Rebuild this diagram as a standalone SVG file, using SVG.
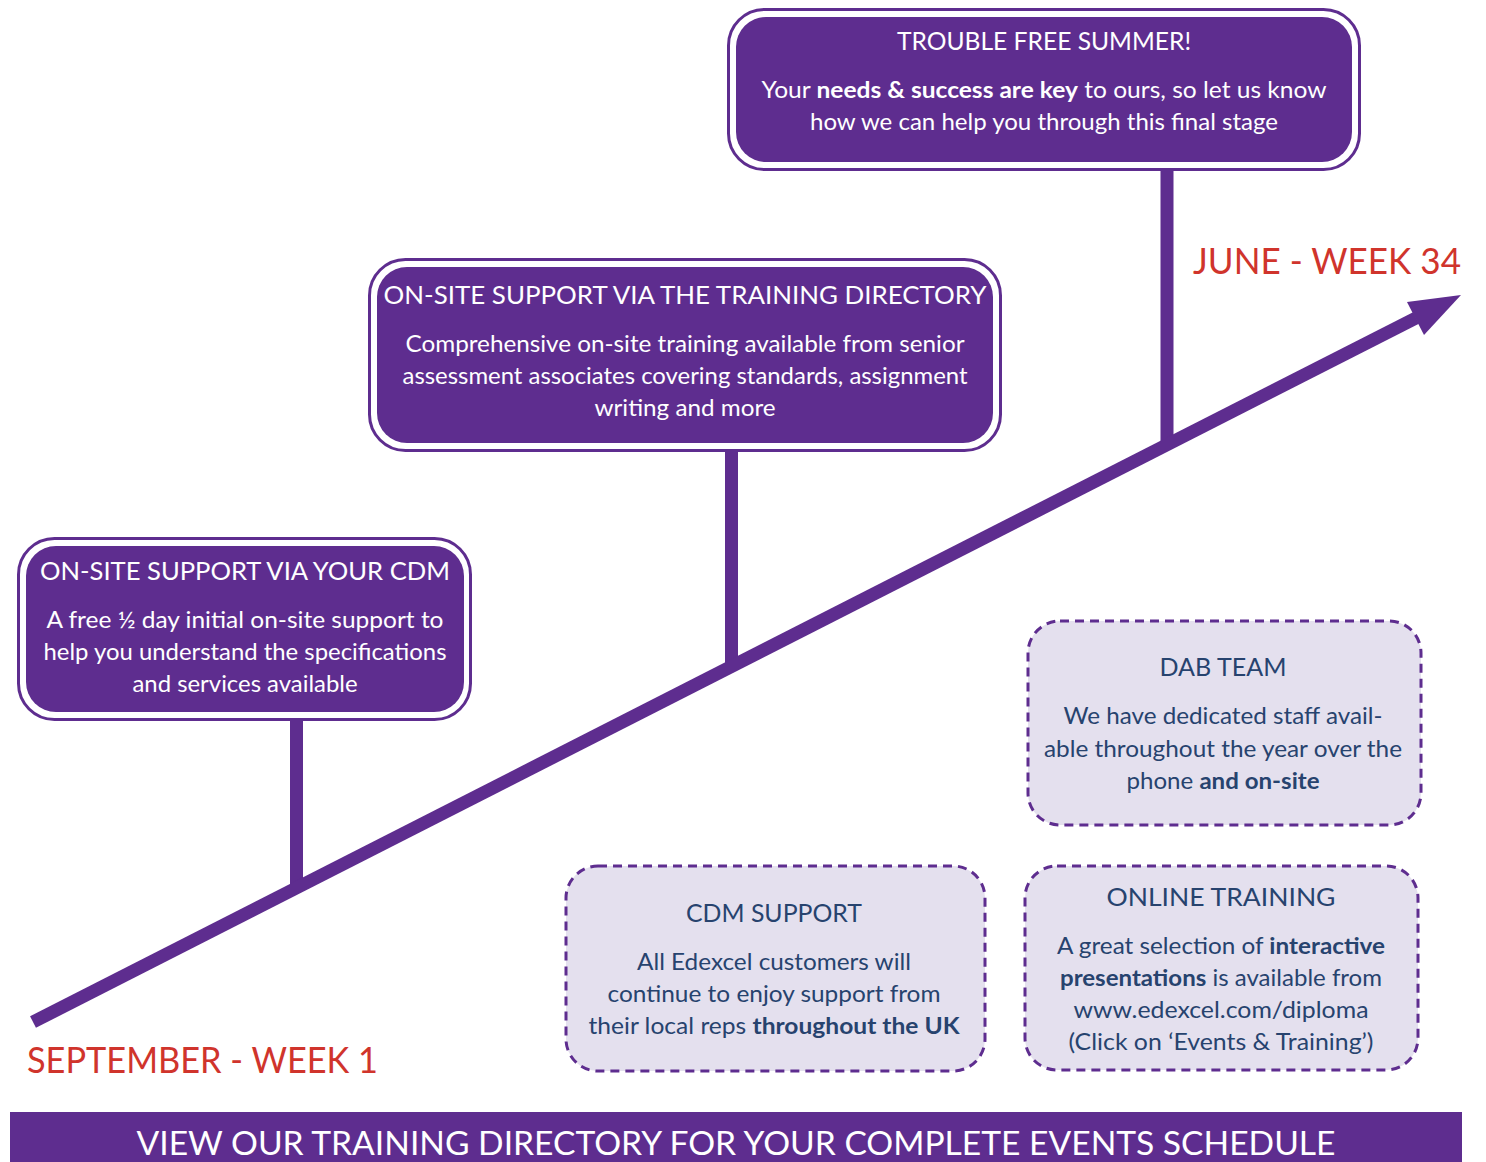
<svg xmlns="http://www.w3.org/2000/svg" width="1486" height="1162" viewBox="0 0 1486 1162">
<style>
.outer{fill:#ffffff;stroke:#5e2d8f;stroke-width:3}
.inner{fill:#5e2d8f}
.dash{fill:#e4e0ee;stroke:#5e2d8f;stroke-width:3;stroke-dasharray:9 6}
.wt{font-family:Lato,"Liberation Sans",sans-serif;fill:#ffffff;text-anchor:middle}
.nt{font-family:Lato,"Liberation Sans",sans-serif;fill:#27436e;text-anchor:middle}
.title{font-size:25px}
.body{font-size:23px}
.b{font-weight:bold}
.red{font-family:Lato,"Liberation Sans",sans-serif;fill:#d0342c;font-size:37px}
.stem{stroke:#5e2d8f;stroke-width:13;fill:none}
</style>
<rect width="1486" height="1162" fill="#ffffff"/>
<g id="connectors">
<line class="stem" x1="296.5" y1="718" x2="296.5" y2="888"/>
<line class="stem" x1="731.5" y1="449" x2="731.5" y2="667"/>
<line class="stem" x1="1167" y1="168" x2="1167" y2="445"/>
<line class="stem" x1="33" y1="1022" x2="1416" y2="318"/>
<polygon points="1461,295 1407,302 1424,335" fill="#5e2d8f"/>
</g>
<g id="node-cdm-onsite">
<rect class="outer" x="18.5" y="538.5" width="452" height="181" rx="36"/>
<rect class="inner" x="26" y="546" width="438" height="166" rx="30"/>
<text class="wt title" x="245" y="580" textLength="410" lengthAdjust="spacingAndGlyphs">ON-SITE SUPPORT VIA YOUR CDM</text>
<text class="wt body" x="245" y="628" textLength="397" lengthAdjust="spacingAndGlyphs">A free ½ day initial on-site support to</text>
<text class="wt body" x="245" y="660" textLength="403" lengthAdjust="spacingAndGlyphs">help you understand the specifications</text>
<text class="wt body" x="245" y="692" textLength="225" lengthAdjust="spacingAndGlyphs">and services available</text>
</g>
<g id="node-training-directory">
<rect class="outer" x="369.5" y="259.5" width="631" height="191" rx="36"/>
<rect class="inner" x="377" y="267" width="616" height="176" rx="30"/>
<text class="wt title" x="685" y="304" textLength="603" lengthAdjust="spacingAndGlyphs">ON-SITE SUPPORT VIA THE TRAINING DIRECTORY</text>
<text class="wt body" x="685" y="352" textLength="559" lengthAdjust="spacingAndGlyphs">Comprehensive on-site training available from senior</text>
<text class="wt body" x="685" y="384" textLength="565" lengthAdjust="spacingAndGlyphs">assessment associates covering standards, assignment</text>
<text class="wt body" x="685" y="416" textLength="181" lengthAdjust="spacingAndGlyphs">writing and more</text>
</g>
<g id="node-summer">
<rect class="outer" x="728.5" y="9.5" width="631" height="160" rx="36"/>
<rect class="inner" x="736" y="17" width="616" height="145" rx="30"/>
<text class="wt title" x="1044" y="50" textLength="294" lengthAdjust="spacingAndGlyphs">TROUBLE FREE SUMMER!</text>
<text class="wt body" x="1044" y="98" textLength="565" lengthAdjust="spacingAndGlyphs">Your <tspan class="b">needs &amp; success are key</tspan> to ours, so let us know</text>
<text class="wt body" x="1044" y="130" textLength="468" lengthAdjust="spacingAndGlyphs">how we can help you through this final stage</text>
</g>
<g id="node-dab-team">
<rect class="dash" x="1028" y="621" width="393" height="204" rx="32"/>
<text class="nt title" x="1223" y="676" textLength="127" lengthAdjust="spacingAndGlyphs">DAB TEAM</text>
<text class="nt body" x="1223" y="724" textLength="319" lengthAdjust="spacingAndGlyphs">We have dedicated staff avail-</text>
<text class="nt body" x="1223" y="757" textLength="358" lengthAdjust="spacingAndGlyphs">able throughout the year over the</text>
<text class="nt body" x="1223" y="789" textLength="193" lengthAdjust="spacingAndGlyphs">phone <tspan class="b">and on-site</tspan></text>
</g>
<g id="node-online-training">
<rect class="dash" x="1025" y="866" width="393" height="204" rx="32"/>
<text class="nt title" x="1221" y="906" textLength="229" lengthAdjust="spacingAndGlyphs">ONLINE TRAINING</text>
<text class="nt body" x="1221" y="954" textLength="328" lengthAdjust="spacingAndGlyphs">A great selection of <tspan class="b">interactive</tspan></text>
<text class="nt body" x="1221" y="986" textLength="322" lengthAdjust="spacingAndGlyphs"><tspan class="b">presentations</tspan> is available from</text>
<text class="nt body" x="1221" y="1018" textLength="295" lengthAdjust="spacingAndGlyphs">www.edexcel.com/diploma</text>
<text class="nt body" x="1221" y="1050" textLength="305" lengthAdjust="spacingAndGlyphs">(Click on ‘Events &amp; Training’)</text>
</g>
<g id="node-cdm-support">
<rect class="dash" x="566" y="866" width="419" height="205" rx="32"/>
<text class="nt title" x="774" y="922" textLength="176" lengthAdjust="spacingAndGlyphs">CDM SUPPORT</text>
<text class="nt body" x="774" y="970" textLength="274" lengthAdjust="spacingAndGlyphs">All Edexcel customers will</text>
<text class="nt body" x="774" y="1002" textLength="333" lengthAdjust="spacingAndGlyphs">continue to enjoy support from</text>
<text class="nt body" x="774" y="1034" textLength="371" lengthAdjust="spacingAndGlyphs">their local reps <tspan class="b">throughout the UK</tspan></text>
</g>
<g id="label-june">
<text class="red" x="1193" y="274" textLength="268" lengthAdjust="spacingAndGlyphs">JUNE - WEEK 34</text>
</g>
<g id="label-september">
<text class="red" x="27" y="1073" textLength="351" lengthAdjust="spacingAndGlyphs">SEPTEMBER - WEEK 1</text>
</g>
<g id="banner">
<rect x="10" y="1112" width="1452" height="50" fill="#5e2d8f"/>
<text class="wt" x="736" y="1155" font-size="33" textLength="1199" lengthAdjust="spacingAndGlyphs">VIEW OUR TRAINING DIRECTORY FOR YOUR COMPLETE EVENTS SCHEDULE</text>
</g>
</svg>
